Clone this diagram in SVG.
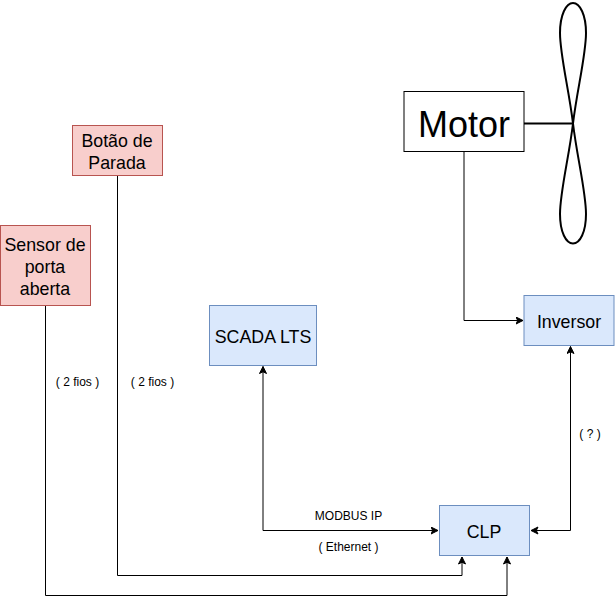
<svg xmlns="http://www.w3.org/2000/svg" width="615" height="604" viewBox="0 0 615 604">
<style>
text{font-family:"Liberation Sans",Arial,Helvetica,sans-serif;fill:#000;text-anchor:middle}
.n{font-size:17.800px}.s{font-size:12px}
.red{fill:#f8cecc;stroke:#b85450}
.blue{fill:#dae8fc;stroke:#6c8ebf}
.c{fill:none;stroke:#000;stroke-width:1}
</style>
<defs><marker id="a" markerUnits="userSpaceOnUse" markerWidth="10" markerHeight="10" refX="7.500" refY="4" orient="auto"><path d="M0.500 0.500L7.500 4L0.500 7.500L2.200 4Z" fill="#000" stroke="#000" stroke-width="1"/></marker></defs>
<rect width="615" height="604" fill="#fff"/>
<g id="connectors">
<path class="c" d="M464 151.500V320.500H523" marker-end="url(#a)"/>
<path class="c" d="M117.500 175.500V575.500H462V557" marker-end="url(#a)"/>
<path class="c" d="M45.500 305.500V595.500H507V557" marker-end="url(#a)"/>
<path class="c" d="M263 530.500V366.500" marker-end="url(#a)"/>
<path class="c" d="M263 530.500H438" marker-end="url(#a)"/>
<path class="c" d="M570.500 530.500V346.500" marker-end="url(#a)"/>
<path class="c" d="M570.500 530.500H531" marker-end="url(#a)"/>
<path d="M524 123.500H573" fill="none" stroke="#000" stroke-width="2"/>
</g>
<g id="motor"><rect x="404" y="91.500" width="120" height="60" fill="#fff" stroke="#000"/><text x="464" y="137" font-size="36">Motor</text></g>
<g id="fan"><path d="M573 123.500C569 90 560 55 560 33C560 15 566 3 573 3C580 3 586 15 586 33C586 55 577 90 573 123.500C569 157 560 192 560 214C560 232 566 243.500 573 243.500C580 243.500 586 232 586 214C586 192 577 157 573 123.500Z" fill="#fff" stroke="#000" stroke-width="2"/></g>
<g id="botao"><rect class="red" x="72.500" y="125.500" width="90" height="50"/><text class="n" x="117" y="146.500">Botão de</text><text class="n" x="117" y="168.500">Parada</text></g>
<g id="sensor"><rect class="red" x="0.500" y="225.500" width="90" height="80"/><text class="n" x="45" y="250.500">Sensor de</text><text class="n" x="45" y="272.500">porta</text><text class="n" x="45" y="294.500">aberta</text></g>
<g id="scada"><rect class="blue" x="209.500" y="305.500" width="107" height="60"/><text class="n" x="263" y="342.500">SCADA LTS</text></g>
<g id="inversor"><rect class="blue" x="524" y="295.500" width="90" height="50"/><text class="n" x="569" y="327.500">Inversor</text></g>
<g id="clp"><rect class="blue" x="439.500" y="505.500" width="90" height="50"/><text class="n" x="484" y="537.500">CLP</text></g>
<g id="labels">
<text class="s" x="77.500" y="386">( 2 fios )</text>
<text class="s" x="152.500" y="386">( 2 fios )</text>
<text class="s" x="590" y="438">( ? )</text>
<text class="s" x="348.500" y="520">MODBUS IP</text>
<text class="s" x="348.500" y="551">( Ethernet )</text>
</g>
</svg>
